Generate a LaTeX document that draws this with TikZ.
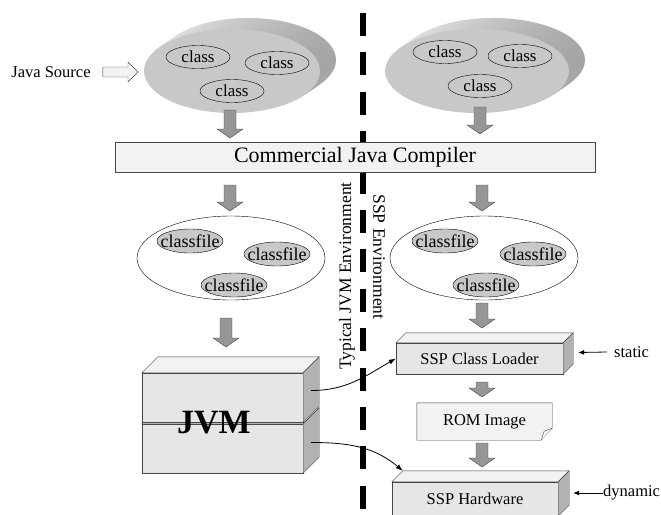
\documentclass[tikz,border=0pt]{standalone}
\usepackage{fontspec}
\setmainfont{Liberation Serif}
\usetikzlibrary{calc,shapes.geometric,arrows.meta,backgrounds}

\definecolor{discsurf}{RGB}{200,200,200}
\definecolor{rimlight}{RGB}{232,232,232}
\definecolor{rimdark}{RGB}{165,165,165}
\definecolor{frontface}{RGB}{230,230,230}
\definecolor{topface}{RGB}{242,242,242}
\definecolor{sideface}{RGB}{178,178,178}
\definecolor{arrowgray}{RGB}{150,150,150}
\definecolor{linegray}{RGB}{70,70,70}

\newcommand{\fs}[1]{\fontsize{#1}{#1}\selectfont}

% gray block arrow pointing down, from #2 to #3
\newcommand{\flowarrow}[3][]{%
  \draw[flowarr,#1] let \p1=(#2), \p2=(#3) in
    (\x1-6pt,\y1) -- (\x1+6pt,\y1) -- (\x1+6pt,\y2+9pt) -- (\x1+13pt,\y2+9pt)
    -- (\x1,\y2) -- (\x1-13pt,\y2+9pt) -- (\x1-6pt,\y2+9pt) -- cycle;}

% top and side of a box node, depth #2
\newcommand{\boxfaces}[2]{%
  \filldraw[fill=topface,draw=linegray] (#1.north west) -- ++(#2,-#2)
    -- ($(#1.north east)+(#2,-#2)$) -- (#1.north east) -- cycle;
  \filldraw[fill=sideface,draw=linegray] (#1.north east) -- ++(#2,-#2)
    -- ($(#1.south east)+(#2,-#2)$) -- (#1.south east) -- cycle;}

% disc with rim
\newcommand{\disc}[3]{%
  \foreach \i in {16,15,...,1}
    \shade[left color=rimlight,right color=rimdark] ($(#1)+(\i,-\i*0.69)$) ellipse [x radius=#2pt,y radius=#3pt];
  \fill[discsurf] (#1) ellipse [x radius=#2pt,y radius=#3pt];}

\begin{document}
\begin{tikzpicture}[x=1pt,y=-1pt,
    lbl/.style={font=\fs{16.5},inner sep=0pt},
    cls/.style={ellipse,draw,inner sep=0pt,minimum width=64,minimum height=23,font=\fs{17}},
    cfile/.style={ellipse,draw,fill=discsurf,inner sep=0pt,minimum width=66,minimum height=24,font=\fs{18}},
    bag/.style={ellipse,draw,fill=white,inner sep=0pt,minimum width=188,minimum height=84},
    slab/.style={draw=linegray,fill=frontface,inner sep=0pt,font=\fs{16.5}},
    flowarr/.style={fill=arrowgray,draw=linegray},
    curvarr/.style={-{Latex[length=7pt,width=5pt]},thick},
    tagarr/.style={-{Latex[length=6pt,width=5pt]},thick}]
  \useasboundingbox (0,0) rectangle (661,514);
  \clip (0,0) rectangle (661,514);

  % environment border
  \draw[line width=6pt,dash pattern=on 23pt off 16.4pt] (363,13) -- (363,514);

  % sources
  \coordinate (ldisc) at (232,71);
  \coordinate (rdisc) at (477,71);
  \disc{ldisc}{88}{42}
  \disc{rdisc}{92}{42}
  \node[cls] (c1) at (198,57) {class};
  \node[cls] (c2) at (277,63) {class};
  \node[cls] (c3) at (232,91) {class};
  \node[cls] (c4) at (445,52) {class};
  \node[cls] (c5) at (520,56) {class};
  \node[cls] (c6) at (480,86) {class};

  \node[lbl] (javasrc) at (51,72) {Java Source};
  \draw[fill=topface,draw=linegray] let \p1=([xshift=12pt]javasrc.east), \p2=($(ldisc)+(-94,0)$) in
    (\x1,\y1+5pt) -- (\x2-10pt,\y1+5pt) -- (\x2-10pt,\y1+10pt) -- (\x2,\y1)
    -- (\x2-10pt,\y1-10pt) -- (\x2-10pt,\y1-5pt) -- (\x1,\y1-5pt) -- cycle;

  % compiler
  \node[draw=linegray,fill=topface,minimum width=480,minimum height=30,inner sep=0pt,font=\fs{22}]
    (compiler) at (355,157) {Commercial Java Compiler};

  \coordinate (a1t) at (230,110); \coordinate (a1b) at (230,138);
  \coordinate (a2t) at (480,107); \coordinate (a2b) at (480,134);
  \flowarrow{a1t}{a1b}
  \flowarrow{a2t}{a2b}

  % class files
  \node[bag] (lbag) at (231,258) {};
  \node[bag] (rbag) at (484,258) {};
  \node[cfile] (f1) at (190,241) {\makebox[0pt]{classfile}};
  \node[cfile] (f2) at (277,254) {\makebox[0pt]{classfile}};
  \node[cfile] (f3) at (234,285) {\makebox[0pt]{classfile}};
  \node[cfile] (f4) at (445,241) {\makebox[0pt]{classfile}};
  \node[cfile] (f5) at (533,254) {\makebox[0pt]{classfile}};
  \node[cfile] (f6) at (486,285) {\makebox[0pt]{classfile}};

  \coordinate (a3t) at (230,185); \coordinate (a3b) at (230,211);
  \coordinate (a4t) at (482,185); \coordinate (a4b) at (482,211);
  \flowarrow{a3t}{a3b}
  \flowarrow{a4t}{a4b}

  \node[lbl,font=\fs{17.5},rotate=90] (jvmenv) at (347,276) {Typical JVM Environment};
  \node[lbl,font=\fs{17.5},rotate=-90] (sspenv) at (379,257) {SSP Environment};

  % JVM side
  \coordinate (a5t) at (226,318); \coordinate (a5b) at (226,347);
  \flowarrow{a5t}{a5b}
  \node[slab,minimum width=161,minimum height=49] (jvmbot) at (222.5,448.5) {};
  \boxfaces{jvmbot}{16}
  \node[slab,minimum width=161,minimum height=49] (jvmtop) at (222.5,397.5) {};
  \boxfaces{jvmtop}{16}
  \node[font=\fs{34}\bfseries,inner sep=0pt] (jvm) at (214,423) {JVM};

  % SSP side
  \node[slab,minimum width=167,minimum height=31] (loader) at (479.5,358.5) {SSP Class Loader};
  \boxfaces{loader}{10}
  \node[lbl,minimum width=135,minimum height=37] (rom) at (484.5,421.5) {ROM Image};
  \begin{scope}[on background layer]
    \filldraw[fill=topface,draw=linegray] (rom.north west) -- (rom.north east)
      -- ([yshift=12pt]rom.south east) -- ([xshift=-11pt]rom.south east) -- (rom.south west) -- cycle;
    \draw[linegray,fill=topface] ([yshift=12pt]rom.south east) -- ([xshift=-8pt,yshift=9pt]rom.south east)
      -- ([xshift=-11pt]rom.south east);
  \end{scope}
  \node[slab,minimum width=166,minimum height=34] (hw) at (475,499) {SSP Hardware};
  \boxfaces{hw}{11}

  \coordinate (a6t) at (482,303); \coordinate (a6b) at (482,328);
  \coordinate (a7t) at (482,382); \coordinate (a7b) at (482,397);
  \coordinate (a8t) at (482,443); \coordinate (a8b) at (482,467);
  \flowarrow{a6t}{a6b}
  \flowarrow{a7t}{a7b}
  \flowarrow{a8t}{a8b}

  \draw[curvarr] ($(jvmtop.east)+(8,-7)$) to[out=0,in=210] (loader.west);
  \draw[curvarr] ($(jvmbot.east)+(8,-6)$) to[out=0,in=140] ($(hw.north west)+(11,-11)$);

  \node[lbl,anchor=west] (static) at (614,352) {static};
  \node[lbl,anchor=west] (dynamic) at (603,493) {dynamic};
  \draw[tagarr] ([xshift=-7pt]static.west) -- ($(loader.east)+(15,-6)$);
  \draw[tagarr] (dynamic.west) -- ($(hw.east)+(15,-6)$);
\end{tikzpicture}
\end{document}
